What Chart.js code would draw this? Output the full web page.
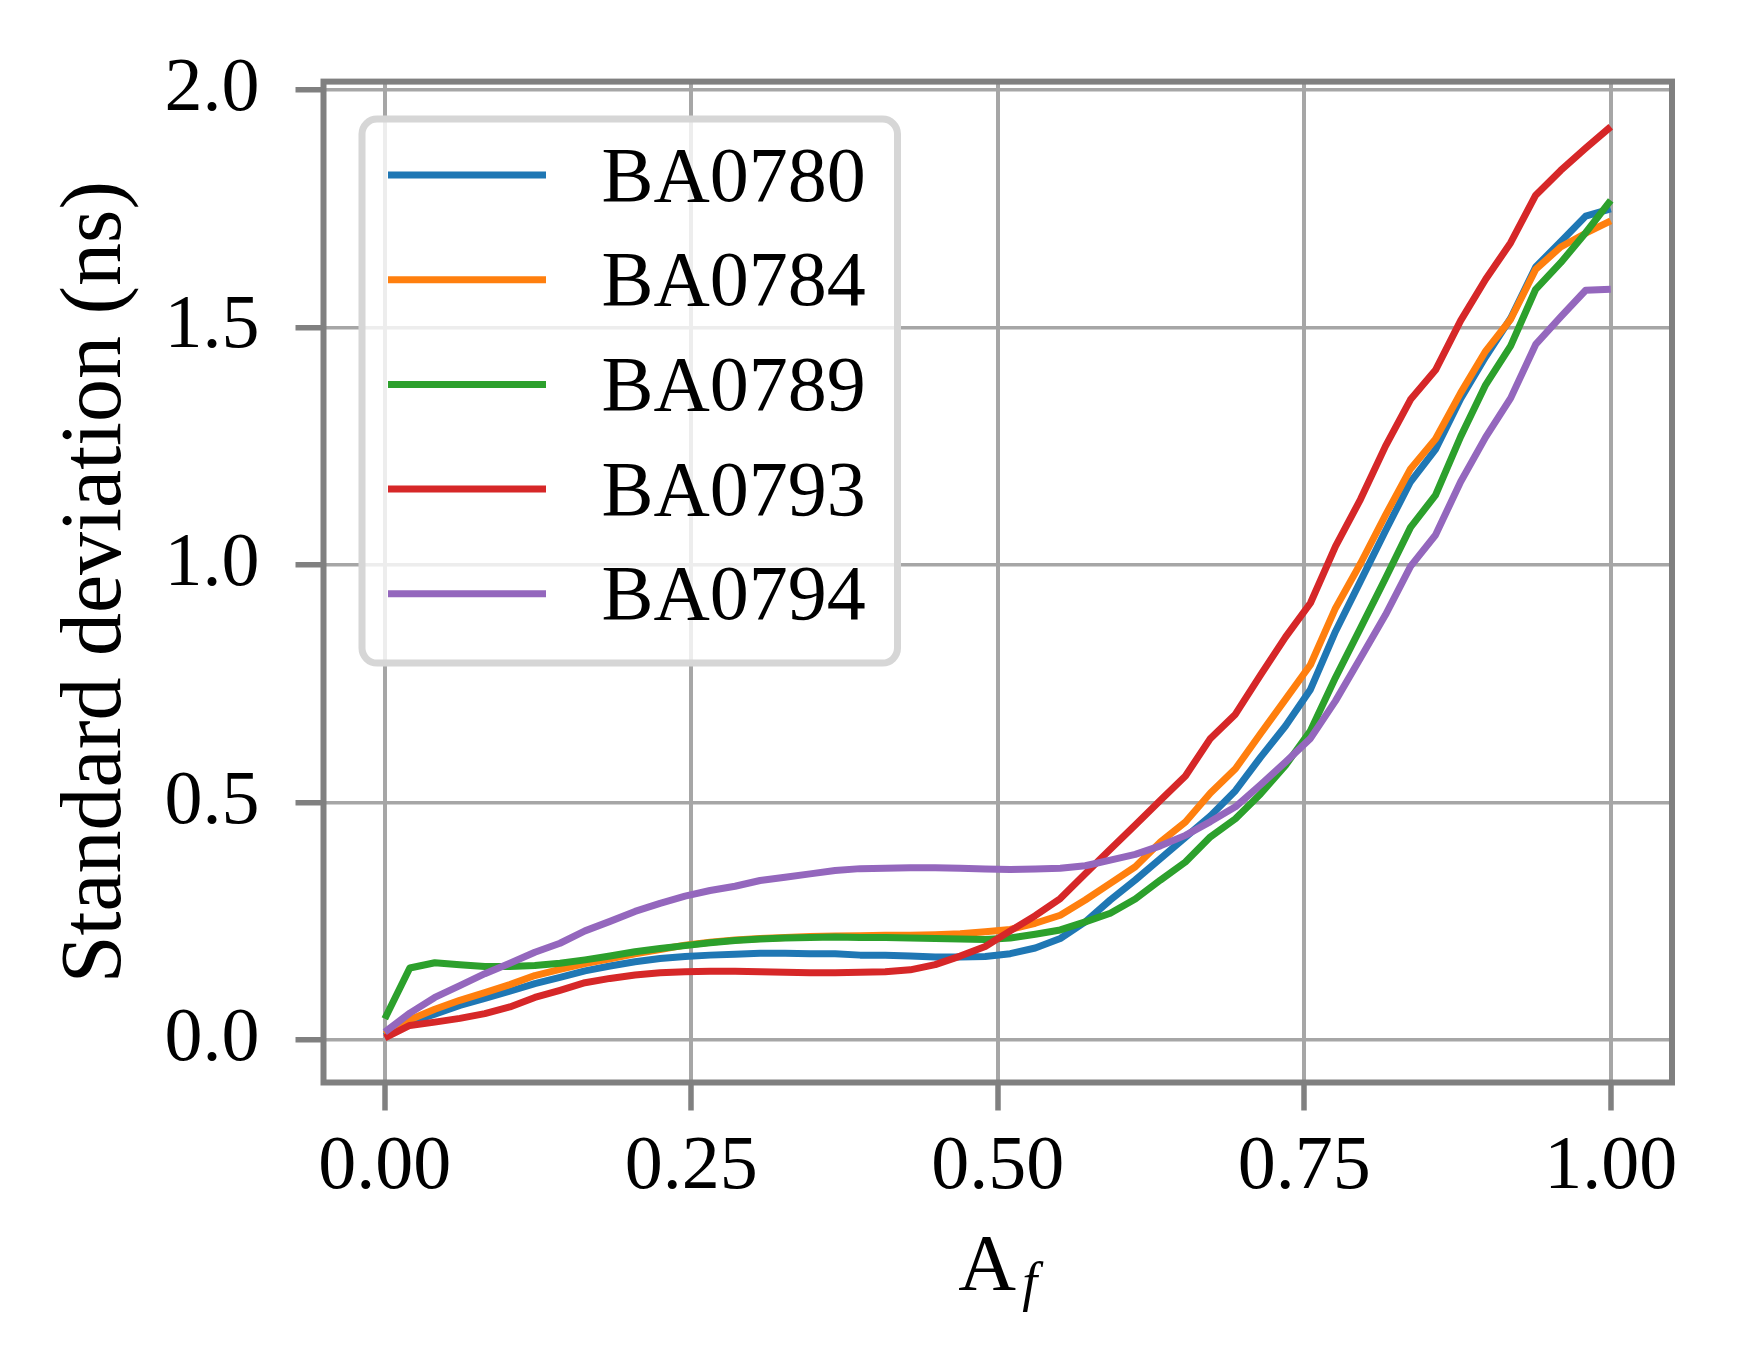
<!DOCTYPE html>
<html>
<head>
<meta charset="utf-8">
<script src="https://cdn.jsdelivr.net/npm/chart.js@4.4.1/dist/chart.umd.min.js"></script>
<style>
  html, body { margin: 0; padding: 0; background: #fff; }
  #wrap { width: 1739px; height: 1370px; }
</style>
</head>
<body>
<div id="wrap"><canvas id="stdChart" width="1739" height="1370"></canvas></div>
<script>
// A_f sample points (50 points from 0 to 1)
const afValues = [
  0, 0.0204, 0.0408, 0.0612, 0.0816, 0.1020, 0.1224, 0.1429, 0.1633, 0.1837,
  0.2041, 0.2245, 0.2449, 0.2653, 0.2857, 0.3061, 0.3265, 0.3469, 0.3673, 0.3878,
  0.4082, 0.4286, 0.4490, 0.4694, 0.4898, 0.5102, 0.5306, 0.5510, 0.5714, 0.5918,
  0.6122, 0.6327, 0.6531, 0.6735, 0.6939, 0.7143, 0.7347, 0.7551, 0.7755, 0.7959,
  0.8163, 0.8367, 0.8571, 0.8776, 0.8980, 0.9184, 0.9388, 0.9592, 0.9796, 1.0000
];

const seriesNames = ['BA0780', 'BA0784', 'BA0789', 'BA0793', 'BA0794'];
const seriesColors = ['#1f77b4', '#ff7f0e', '#2ca02c', '#d62728', '#9467bd'];

// standard deviation (ns)
const ba0780 = [
  0.008, 0.038, 0.055, 0.073, 0.088, 0.103, 0.119, 0.132, 0.146, 0.156,
  0.165, 0.172, 0.176, 0.179, 0.181, 0.183, 0.183, 0.182, 0.182, 0.179,
  0.179, 0.177, 0.175, 0.175, 0.176, 0.182, 0.194, 0.214, 0.249, 0.295,
  0.337, 0.382, 0.427, 0.472, 0.525, 0.595, 0.661, 0.738, 0.860, 0.966,
  1.072, 1.175, 1.243, 1.350, 1.438, 1.519, 1.627, 1.680, 1.734, 1.749
];
const ba0784 = [
  0.012, 0.043, 0.065, 0.084, 0.100, 0.117, 0.136, 0.149, 0.161, 0.171,
  0.182, 0.191, 0.200, 0.206, 0.211, 0.214, 0.216, 0.218, 0.219, 0.220,
  0.221, 0.221, 0.222, 0.224, 0.228, 0.233, 0.246, 0.263, 0.295, 0.330,
  0.365, 0.417, 0.459, 0.520, 0.571, 0.645, 0.717, 0.790, 0.909, 1.003,
  1.105, 1.202, 1.265, 1.362, 1.450, 1.517, 1.622, 1.669, 1.698, 1.724
];
const ba0789 = [
  0.045, 0.152, 0.163, 0.159, 0.155, 0.155, 0.157, 0.162, 0.169, 0.177,
  0.186, 0.193, 0.199, 0.205, 0.210, 0.213, 0.215, 0.216, 0.217, 0.216,
  0.216, 0.215, 0.214, 0.213, 0.212, 0.215, 0.223, 0.232, 0.249, 0.267,
  0.297, 0.337, 0.375, 0.428, 0.466, 0.518, 0.578, 0.651, 0.763, 0.867,
  0.972, 1.079, 1.147, 1.270, 1.379, 1.461, 1.580, 1.636, 1.699, 1.767
];
const ba0793 = [
  0.005, 0.031, 0.038, 0.046, 0.056, 0.070, 0.090, 0.105, 0.121, 0.130,
  0.137, 0.142, 0.144, 0.145, 0.145, 0.144, 0.143, 0.142, 0.142, 0.143,
  0.144, 0.148, 0.159, 0.177, 0.197, 0.230, 0.262, 0.298, 0.350, 0.402,
  0.453, 0.505, 0.556, 0.635, 0.686, 0.768, 0.848, 0.920, 1.039, 1.138,
  1.250, 1.348, 1.410, 1.514, 1.601, 1.678, 1.778, 1.830, 1.877, 1.922
];
const ba0794 = [
  0.017, 0.057, 0.090, 0.115, 0.140, 0.162, 0.185, 0.204, 0.230, 0.250,
  0.271, 0.288, 0.303, 0.315, 0.324, 0.336, 0.343, 0.350, 0.357, 0.361,
  0.362, 0.363, 0.363, 0.362, 0.360, 0.359, 0.360, 0.362, 0.367, 0.379,
  0.391, 0.409, 0.431, 0.460, 0.491, 0.537, 0.585, 0.635, 0.714, 0.804,
  0.895, 0.997, 1.063, 1.175, 1.269, 1.351, 1.464, 1.522, 1.578, 1.580
];

const xTickValues = [0, 0.25, 0.5, 0.75, 1];
const yTickValues = [0, 0.5, 1, 1.5, 2];

const serif = "'Liberation Serif', 'Times New Roman', serif";
const allSeries = [ba0780, ba0784, ba0789, ba0793, ba0794];

const datasets = allSeries.map((vals, i) => ({
  label: seriesNames[i],
  data: vals.map((v, j) => ({ x: afValues[j], y: v })),
  borderColor: seriesColors[i],
  borderWidth: 7,
  borderJoinStyle: 'round',
  pointRadius: 0,
  tension: 0,
  fill: false,
  order: allSeries.length - i  // later series on top, like matplotlib
}));

// spines, legend box and the A_f axis label
const framePlugin = {
  id: 'frame',
  afterDatasetsDraw(chart) {
    const { ctx, chartArea: ca } = chart;
    ctx.save();

    // spines
    ctx.strokeStyle = '#808080';
    ctx.lineWidth = 6;
    ctx.strokeRect(ca.left, ca.top, ca.right - ca.left, ca.bottom - ca.top);

    // legend
    const bx = ca.left + 38.5, by = ca.top + 37.5, bw = 535.5, bh = 544;
    ctx.beginPath();
    ctx.roundRect(bx, by, bw, bh, 15);
    ctx.fillStyle = 'rgba(255,255,255,0.8)';
    ctx.fill();
    ctx.strokeStyle = '#d6d6d6';
    ctx.lineWidth = 7;
    ctx.stroke();

    ctx.font = `78px ${serif}`;
    ctx.textAlign = 'left';
    ctx.textBaseline = 'alphabetic';
    seriesNames.forEach((name, i) => {
      const ly = ca.top + 93.4 + i * 104.7;
      ctx.beginPath();
      ctx.moveTo(ca.left + 64.5, ly);
      ctx.lineTo(ca.left + 222.5, ly);
      ctx.strokeStyle = seriesColors[i];
      ctx.lineWidth = 7;
      ctx.lineCap = 'butt';
      ctx.stroke();
      ctx.fillStyle = '#000';
      ctx.fillText(name, ca.left + 278, ly + 25.6);
    });

    // x axis title: A with italic subscript f
    const cx = (ca.left + ca.right) / 2;
    ctx.font = `80px ${serif}`;
    const wA = ctx.measureText('A').width;
    ctx.font = `italic 54px ${serif}`;
    const wf = ctx.measureText('f').width;
    const gap = 6;
    const start = cx - (wA + gap + wf) / 2;
    ctx.fillStyle = '#000';
    ctx.font = `80px ${serif}`;
    ctx.fillText('A', start, 1290);
    ctx.font = `italic 54px ${serif}`;
    ctx.fillText('f', start + wA + gap, 1300);

    ctx.restore();
  }
};

const ctx = document.getElementById('stdChart').getContext('2d');

new Chart(ctx, {
  type: 'line',
  data: { datasets },
  options: {
    responsive: false,
    animation: false,
    devicePixelRatio: 1,
    layout: { padding: { left: 0, top: 78, right: 67, bottom: 0 } },
    plugins: {
      legend: { display: false },
      tooltip: { enabled: false }
    },
    scales: {
      x: {
        type: 'linear',
        min: -0.05,
        max: 1.05,
        afterBuildTicks: s => { s.ticks = xTickValues.map(v => ({ value: v })); },
        afterFit: s => { s.height = 287.5; },
        ticks: {
          callback: v => v.toFixed(2),
          font: { family: serif, size: 76 },
          color: '#000',
          padding: 12,
          maxRotation: 0,
          autoSkip: false
        },
        grid: { color: '#a6a6a6', lineWidth: 4, tickColor: '#808080', tickWidth: 5.5, tickLength: 28 },
        border: { display: false }
      },
      y: {
        type: 'linear',
        min: -0.089,
        max: 2.017,
        afterBuildTicks: s => { s.ticks = yTickValues.map(v => ({ value: v })); },
        afterFit: s => { s.width = 323.5; },
        ticks: {
          callback: v => v.toFixed(1),
          font: { family: serif, size: 76 },
          color: '#000',
          padding: 36,
          autoSkip: false
        },
        grid: { color: '#a6a6a6', lineWidth: 3.5, tickColor: '#808080', tickWidth: 5.5, tickLength: 28 },
        border: { display: false },
        title: {
          display: true,
          text: 'Standard deviation (ns)',
          font: { family: serif, size: 86 },
          color: '#000',
          padding: { top: 46, bottom: 0 }
        }
      }
    }
  },
  plugins: [framePlugin]
});
</script>
</body>
</html>
